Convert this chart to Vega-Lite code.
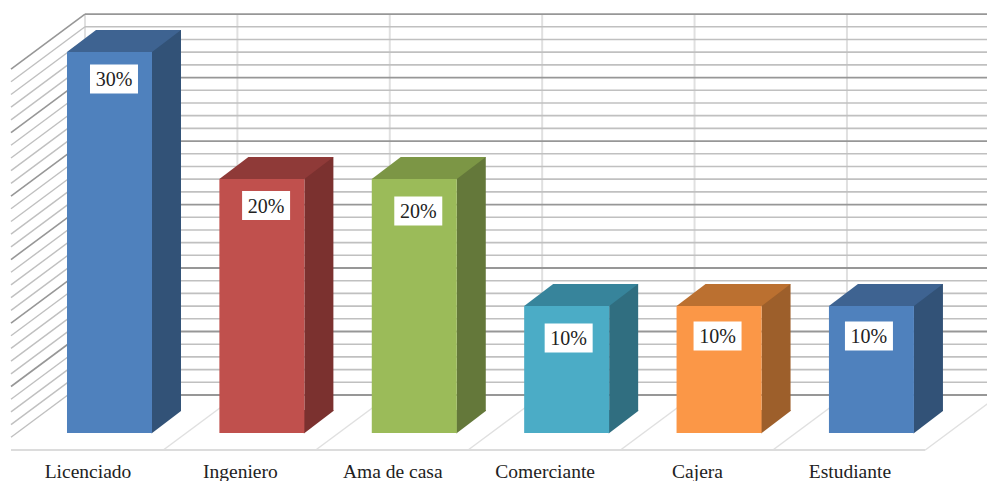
{"$schema":"https://vega.github.io/schema/vega-lite/v6.json","width":987,"height":481,"padding":0,"autosize":"none","background":"#ffffff","view":{"stroke":null},
"datasets":{
"bars":[{"category":"Licenciado","index":0,"share":30,"label":"30%"},{"category":"Ingeniero","index":1,"share":20,"label":"20%"},{"category":"Ama de casa","index":2,"share":20,"label":"20%"},{"category":"Comerciante","index":3,"share":10,"label":"10%"},{"category":"Cajera","index":4,"share":10,"label":"10%"},{"category":"Estudiante","index":5,"share":10,"label":"10%"}],
"grid":[{"pct":0},{"pct":1},{"pct":2},{"pct":3},{"pct":4},{"pct":5},{"pct":6},{"pct":7},{"pct":8},{"pct":9},{"pct":10},{"pct":11},{"pct":12},{"pct":13},{"pct":14},{"pct":15},{"pct":16},{"pct":17},{"pct":18},{"pct":19},{"pct":20},{"pct":21},{"pct":22},{"pct":23},{"pct":24},{"pct":25},{"pct":26},{"pct":27},{"pct":28},{"pct":29},{"pct":30}],
"slots":[{"slot":-0.164},{"slot":0.836},{"slot":1.836},{"slot":2.836},{"slot":3.836},{"slot":4.836}],
"floor":[{"start":0.836,"end":0.35},{"start":1.836,"end":1.35},{"start":2.836,"end":2.35},{"start":3.836,"end":3.35},{"start":4.836,"end":4.35},{"start":5.836,"end":5.35}]},
"encoding":{"x":{"type":"quantitative","scale":{"domain":[-0.7218,5.755],"range":[0,987],"nice":false,"zero":false},"axis":null},"y":{"type":"quantitative","scale":{"domain":[-3.78,34.1],"range":[481,0],"nice":false,"zero":false},"axis":null}},
"layer":[
{"data":{"name":"slots"},"mark":{"type":"rule","color":"#e0e0e0","strokeWidth":2,"yOffset":-38,"y2Offset":-38},"encoding":{"x":{"field":"slot"},"y":{"datum":0},"y2":{"datum":30}}},
{"data":{"name":"floor"},"mark":{"type":"rule","color":"#e0e0e0","strokeWidth":1.5,"yOffset":-38},"encoding":{"x":{"field":"start"},"x2":{"field":"end"},"y":{"datum":0},"y2":{"datum":-1.339}}},
{"data":{"name":"grid"},"mark":{"type":"rule","yOffset":-38,"y2Offset":-38},"encoding":{"x":{"datum":-0.164},"x2":{"datum":5.755},"y":{"field":"pct"},"y2":{"field":"pct"},"color":{"condition":{"test":"datum.pct % 5 === 0","value":"#979797"},"value":"#c0c0c0"},"strokeWidth":{"condition":{"test":"datum.pct % 5 === 0","value":1.8},"value":1.6}}},
{"data":{"name":"grid"},"transform":[{"filter":"datum.pct > 0"}],"mark":{"type":"rule","yOffset":-38,"y2Offset":17},"encoding":{"x":{"datum":-0.164},"x2":{"datum":-0.6496},"y":{"field":"pct"},"y2":{"field":"pct"},"color":{"condition":{"test":"datum.pct % 5 === 0","value":"#979797"},"value":"#c0c0c0"},"strokeWidth":{"condition":{"test":"datum.pct % 5 === 0","value":1.6},"value":1.4}}},
{"data":{"values":[{"edge":"front"}]},"mark":{"type":"rule","color":"#dcdcdc","strokeWidth":1.8},"encoding":{"x":{"datum":-0.6496},"x2":{"datum":5.35},"y":{"datum":-1.339}}},
{"data":{"name":"bars"},"mark":{"type":"rect","xOffset":42,"x2Offset":71,"yOffset":-22,"y2Offset":-22},"encoding":{"x":{"field":"index"},"x2":{"field":"index"},"y":{"field":"share"},"y2":{"datum":0},"fill":{"field":"category","type":"nominal","scale":{"domain":["Licenciado","Ingeniero","Ama de casa","Comerciante","Cajera","Estudiante"],"range":["#325277","#7b312f","#64783a","#306e80","#9d5f2b","#325277"]},"legend":null}}},
{"data":{"name":"bars"},"mark":{"type":"point","filled":true,"opacity":1,"size":4,"shape":"M41.5,0.5 L71,-22 L71,-23 L41.5,-23 Z"},"encoding":{"x":{"field":"index"},"y":{"datum":0},"fill":{"field":"category","type":"nominal","scale":{"domain":["Licenciado","Ingeniero","Ama de casa","Comerciante","Cajera","Estudiante"],"range":["#325277","#7b312f","#64783a","#306e80","#9d5f2b","#325277"]},"legend":null}}},
{"data":{"name":"bars"},"mark":{"type":"point","filled":true,"opacity":1,"size":4,"shape":"M-43,0 L-14,-22 L71,-22 L42,0 Z"},"encoding":{"x":{"field":"index"},"y":{"field":"share"},"fill":{"field":"category","type":"nominal","scale":{"domain":["Licenciado","Ingeniero","Ama de casa","Comerciante","Cajera","Estudiante"],"range":["#3e6391","#8f3a38","#7c9645","#37849b","#bb7030","#3e6391"]},"legend":null}}},
{"data":{"name":"bars"},"mark":{"type":"rect","xOffset":-43,"x2Offset":42},"encoding":{"x":{"field":"index"},"x2":{"field":"index"},"y":{"field":"share"},"y2":{"datum":0},"fill":{"field":"category","type":"nominal","scale":{"domain":["Licenciado","Ingeniero","Ama de casa","Comerciante","Cajera","Estudiante"],"range":["#4f81bd","#c0504d","#9bbb59","#4bacc6","#fb9747","#4f81bd"]},"legend":null}}},
{"data":{"name":"bars"},"transform":[{"filter":"datum.index === 0"}],"encoding":{"x":{"field":"index"},"y":{"field":"share"}},"layer":[{"mark":{"type":"rect","width":48,"height":29,"fill":"#ffffff","xOffset":4,"yOffset":27}},{"mark":{"type":"text","font":"Liberation Serif","fontSize":20,"color":"#222222","align":"center","baseline":"middle","xOffset":4,"yOffset":28},"encoding":{"text":{"field":"label"}}}]},
{"data":{"name":"bars"},"transform":[{"filter":"datum.index === 1"}],"encoding":{"x":{"field":"index"},"y":{"field":"share"}},"layer":[{"mark":{"type":"rect","width":48,"height":29,"fill":"#ffffff","xOffset":3.7,"yOffset":26.5}},{"mark":{"type":"text","font":"Liberation Serif","fontSize":20,"color":"#222222","align":"center","baseline":"middle","xOffset":3.7,"yOffset":27.5},"encoding":{"text":{"field":"label"}}}]},
{"data":{"name":"bars"},"transform":[{"filter":"datum.index === 2"}],"encoding":{"x":{"field":"index"},"y":{"field":"share"}},"layer":[{"mark":{"type":"rect","width":48,"height":29,"fill":"#ffffff","xOffset":3.5,"yOffset":32}},{"mark":{"type":"text","font":"Liberation Serif","fontSize":20,"color":"#222222","align":"center","baseline":"middle","xOffset":3.5,"yOffset":33},"encoding":{"text":{"field":"label"}}}]},
{"data":{"name":"bars"},"transform":[{"filter":"datum.index === 3"}],"encoding":{"x":{"field":"index"},"y":{"field":"share"}},"layer":[{"mark":{"type":"rect","width":48,"height":29,"fill":"#ffffff","xOffset":1.5,"yOffset":32}},{"mark":{"type":"text","font":"Liberation Serif","fontSize":20,"color":"#222222","align":"center","baseline":"middle","xOffset":1.5,"yOffset":33},"encoding":{"text":{"field":"label"}}}]},
{"data":{"name":"bars"},"transform":[{"filter":"datum.index === 4"}],"encoding":{"x":{"field":"index"},"y":{"field":"share"}},"layer":[{"mark":{"type":"rect","width":48,"height":29,"fill":"#ffffff","xOffset":-2,"yOffset":30}},{"mark":{"type":"text","font":"Liberation Serif","fontSize":20,"color":"#222222","align":"center","baseline":"middle","xOffset":-2,"yOffset":31},"encoding":{"text":{"field":"label"}}}]},
{"data":{"name":"bars"},"transform":[{"filter":"datum.index === 5"}],"encoding":{"x":{"field":"index"},"y":{"field":"share"}},"layer":[{"mark":{"type":"rect","width":48,"height":29,"fill":"#ffffff","xOffset":-3,"yOffset":30}},{"mark":{"type":"text","font":"Liberation Serif","fontSize":20,"color":"#222222","align":"center","baseline":"middle","xOffset":-3,"yOffset":31},"encoding":{"text":{"field":"label"}}}]},
{"data":{"name":"bars"},"mark":{"type":"text","font":"Liberation Serif","fontSize":19.5,"color":"#222222","align":"center","baseline":"middle","xOffset":-22},"encoding":{"x":{"field":"index"},"y":{"datum":-3.05},"text":{"field":"category"}}}
],
"resolve":{"scale":{"fill":"independent"}}}
